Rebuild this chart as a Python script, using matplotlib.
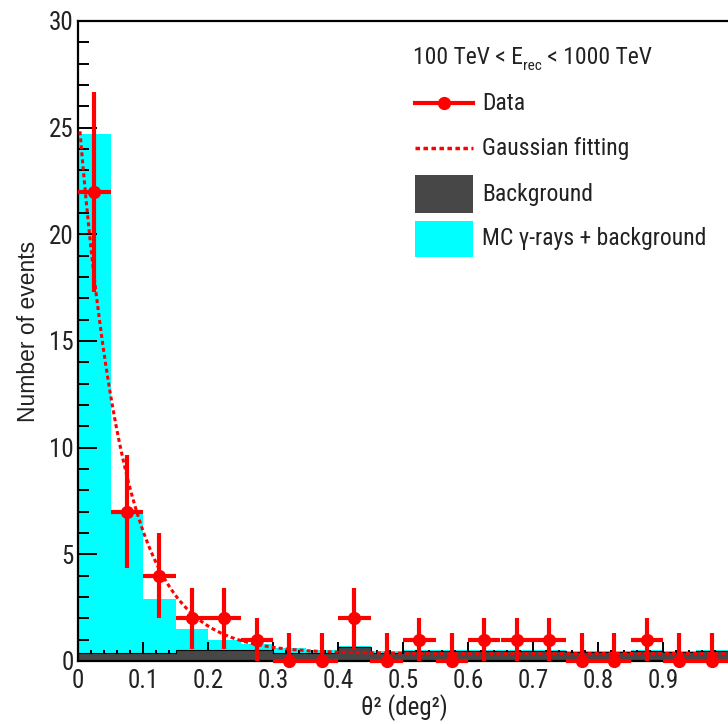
import numpy as np
import matplotlib
matplotlib.use("Agg")
import matplotlib.pyplot as plt
from matplotlib.lines import Line2D
from matplotlib.patches import Rectangle
from matplotlib import font_manager
from matplotlib.font_manager import FontProperties

# ---- pick a narrow/condensed sans font if one is installed ----
def _is_condensed(f):
    st = f.stretch
    if isinstance(st, str):
        if 'condensed' in st.lower() or 'narrow' in st.lower():
            return True
    elif isinstance(st, (int, float)) and st < 500:
        return True
    return ('Narrow' in f.name) or ('Condensed' in f.name) or \
           ('Narrow' in f.fname) or ('Condensed' in f.fname)

cands = []
for f in font_manager.fontManager.ttflist:
    if f.style != 'normal':
        continue
    w = f.weight
    if isinstance(w, str):
        if w not in ('normal', 'regular', 'book', 'medium'):
            continue
    elif w not in (400, 500):
        continue
    if _is_condensed(f):
        pri = 5
        for i, key in enumerate(['Liberation', 'Roboto', 'Open', 'DejaVu', 'Noto']):
            if key in f.name:
                pri = i
        cands.append((pri, f.fname))
cands.sort()
NARROW_FILE = cands[0][1] if cands else None


def fp(size):
    if NARROW_FILE:
        return FontProperties(fname=NARROW_FILE, size=size)
    return FontProperties(family=['Liberation Sans', 'DejaVu Sans'], size=size * 0.8)

plt.rcParams['font.family'] = ['Liberation Sans', 'DejaVu Sans']

# ---- data ----
bin_edges = np.linspace(0.0, 1.0, 21)
data_counts = np.array([22, 7, 4, 2, 2, 1, 0, 0, 2, 0, 1, 0, 1, 1, 1, 0, 0, 1, 0, 0])
zero_upper_err = 1.3
mc_gamma_plus_bkg = np.array([24.7, 7.0, 2.9, 1.5, 1.0, 0.78, 0.6, 0.5, 0.68, 0.45,
                              0.52, 0.52, 0.52, 0.52, 0.52, 0.48, 0.48, 0.52, 0.45, 0.52])
background = np.array([0.38, 0.38, 0.38, 0.52, 0.52, 0.52, 0.38, 0.38, 0.65, 0.38,
                       0.48, 0.48, 0.48, 0.48, 0.48, 0.44, 0.44, 0.48, 0.40, 0.48])
# Gaussian fit (in theta) parameters
fit_amp = 25.6
fit_sigma = 0.183
fit_const = 0.35

x_ticks = [0, 0.1, 0.2, 0.3, 0.4, 0.5, 0.6, 0.7, 0.8, 0.9]
x_ticklabels = ['0', '0.1', '0.2', '0.3', '0.4', '0.5', '0.6', '0.7', '0.8', '0.9']
y_ticks = [0, 5, 10, 15, 20, 25, 30]
y_ticklabels = ['0', '5', '10', '15', '20', '25', '30']

centers = 0.5 * (bin_edges[:-1] + bin_edges[1:])
half_w = 0.5 * np.diff(bin_edges)
err_lo = np.sqrt(data_counts)
err_up = np.where(data_counts > 0, np.sqrt(data_counts), zero_upper_err)

W, H = 728, 724
fig = plt.figure(figsize=(W / 100, H / 100), dpi=100)
ax = fig.add_axes([78 / W, 1 - 661 / H, 650 / W, 640 / H])

ax.stairs(mc_gamma_plus_bkg, bin_edges, fill=True, color='#00ffff', zorder=1)
ax.stairs(background, bin_edges, fill=True, color='#474747', zorder=2)
ax.stairs(background, bin_edges, color='black', lw=0.8, zorder=2.1)

xf = np.linspace(0.003, 1.0, 400)
ax.plot(xf, fit_amp * np.exp(-xf / (2 * fit_sigma ** 2)) + fit_const, color='red',
        lw=2.2, ls=(0, (1.3, 1.0)), zorder=3)

eb = ax.errorbar(centers, data_counts, xerr=half_w, yerr=[err_lo, err_up], fmt='o',
                 color='red', ms=8.5, elinewidth=3, capsize=0, zorder=4)
for art in eb.get_children():
    art.set_clip_on(False)

ax.set_xlim(0, 1)
ax.set_ylim(0, 30)
ax.set_xticks(x_ticks)
ax.set_xticklabels(x_ticklabels)
ax.set_xticks(np.arange(0, 1.0, 0.02), minor=True)
ax.set_yticks(y_ticks)
ax.set_yticklabels(y_ticklabels)
ax.set_yticks(np.arange(0, 30, 1), minor=True)
ax.tick_params(axis='both', which='both', direction='in', width=1.4, colors='black')
ax.tick_params(axis='both', which='major', length=14)
ax.tick_params(axis='both', which='minor', length=8)
ax.tick_params(axis='x', which='major', pad=6)
ax.tick_params(axis='y', which='major', pad=3)
for lbl in ax.get_xticklabels() + ax.get_yticklabels():
    lbl.set_fontproperties(fp(18))
    lbl.set_color('#222222')
for s in ['left', 'top', 'bottom']:
    ax.spines[s].set_linewidth(1.6)
ax.spines['right'].set_visible(False)

ax.set_xlabel('θ² (deg²)', fontproperties=fp(18))
ax.xaxis.set_label_coords((404 - 78) / 650, (661 - 708) / 640)
ax.set_ylabel('Number of events', fontproperties=FontProperties(
    family=['Liberation Sans', 'DejaVu Sans'], size=16.5))
ax.yaxis.set_label_coords((29 - 78) / 650, (661 - 331) / 640)
ax.yaxis.label.set_va('center')
ax.xaxis.label.set_va('center')
ax.yaxis.label.set_color('#222222')
ax.xaxis.label.set_color('#222222')

# ---- legend (manual, ROOT style) ----
def fx(px):
    return px / W

def fy(py):
    return 1 - py / H

tf = fig.transFigure
renderer = fig.canvas.get_renderer()

# title with subscript built from pieces
t1 = fig.text(fx(413), fy(58), '100 TeV < E', fontproperties=fp(17), va='center',
              ha='left', color='#222222')
bb = t1.get_window_extent(renderer)
t2 = fig.text(bb.x1 / W, fy(66), 'rec', fontproperties=fp(11), va='center', ha='left',
              color='#222222')
bb2 = t2.get_window_extent(renderer)
fig.text(bb2.x1 / W, fy(58), ' < 1000 TeV', fontproperties=fp(17), va='center',
         ha='left', color='#222222')

fig.add_artist(Line2D([fx(415), fx(473)], [fy(103), fy(103)], color='red', lw=3,
                      transform=tf))
fig.add_artist(Line2D([fx(444)], [fy(103)], color='red', marker='o', ms=8.5,
                      transform=tf))
fig.add_artist(Line2D([fx(415), fx(473)], [fy(148), fy(148)], color='red', lw=2.5,
                      ls=(0, (1.3, 1.0)), transform=tf))
fig.add_artist(Rectangle((fx(415), fy(213)), fx(58), (213 - 175) / H,
                         facecolor='#474747', edgecolor='none', transform=tf))
fig.add_artist(Rectangle((fx(415), fy(257)), fx(58), (257 - 221) / H,
                         facecolor='#00ffff', edgecolor='none', transform=tf))
labels = ['Data', 'Gaussian fitting', 'Background', 'MC γ-rays + background']
for lab, py in zip(labels, [103, 148, 194, 239]):
    fig.text(fx(482), fy(py), lab, fontproperties=fp(17), va='center', ha='left',
             color='#222222')

fig.savefig('out.png', dpi=100)
